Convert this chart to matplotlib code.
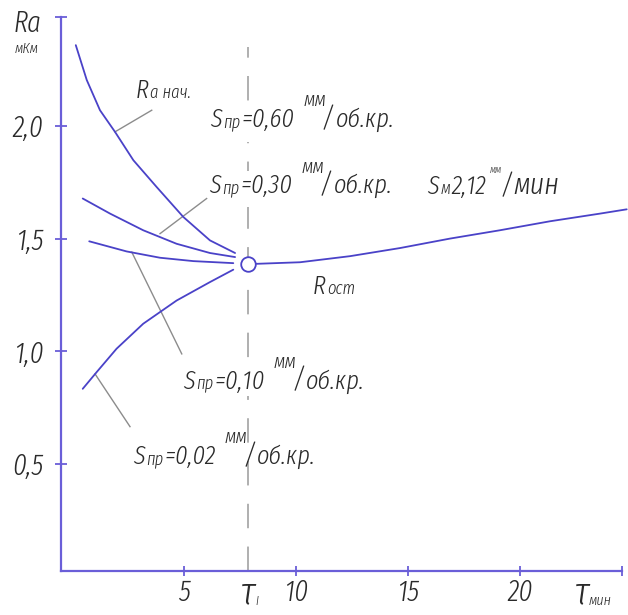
import matplotlib
matplotlib.use("Agg")
import matplotlib.pyplot as plt

FONT = ['Fira Sans Extra Condensed', 'DejaVu Sans']
plt.rcParams['font.family'] = FONT
plt.rcParams['font.style'] = 'italic'
plt.rcParams['font.weight'] = 300

# ---------------- data ----------------
t_nach = [0.17, 0.66, 1.25, 1.92, 2.74, 3.78, 4.97, 6.16, 7.28]
ra_nach = [2.36, 2.205, 2.071, 1.975, 1.849, 1.73, 1.597, 1.493, 1.437]

t_030 = [0.48, 1.70, 3.18, 4.67, 6.16, 7.28]
ra_030 = [1.679, 1.612, 1.538, 1.478, 1.437, 1.419]

t_010 = [0.77, 2.44, 3.93, 5.42, 7.2]
ra_010 = [1.489, 1.444, 1.416, 1.401, 1.392]

t_002 = [0.48, 1.10, 1.99, 3.18, 4.67, 6.16, 7.2]
ra_002 = [0.834, 0.908, 1.012, 1.123, 1.226, 1.308, 1.363]

t_ost = [8.24, 10.18, 12.41, 14.64, 16.87, 19.1, 21.34, 23.57, 24.76]
ra_ost = [1.389, 1.396, 1.423, 1.459, 1.501, 1.538, 1.578, 1.612, 1.631]

tau1 = 7.87
ra_tau1 = 1.39

x_ticks = [5, 10, 15, 20]
x_ticklabels = ['5', '10', '15', '20']
y_ticks = [0.5, 1.0, 1.5, 2.0]
y_ticklabels = ['0,5', '1,0', '1,5', '2,0']

# leader lines (start on curve, end near label)
lead_nach = ([1.92, 3.56], [1.975, 2.071])
lead_030 = ([3.93, 6.01], [1.523, 1.679])
lead_010 = ([2.67, 4.90], [1.441, 0.989])
lead_002 = ([1.03, 2.59], [0.900, 0.666])

# ---------------- styles ----------------
CURVE = '#4a42c8'
AXIS = '#6a5ed8'
GRAY = '#8c8c8c'
TXT = '#2a2a2a'

fig = plt.figure(figsize=(6.28, 6.15), dpi=100)
ax = fig.add_axes([61 / 628, 44 / 615, (622 - 61) / 628, (571 - 17) / 615])
XMIN, XMAX = -0.49, 24.55
YMIN, YMAX = 0.025, 2.485
ax.set_xlim(XMIN, XMAX)
ax.set_ylim(YMIN, YMAX)

for s in ['top', 'right']:
    ax.spines[s].set_visible(False)
for s in ['left', 'bottom']:
    ax.spines[s].set_color(AXIS)
    ax.spines[s].set_linewidth(1.6)

ax.set_xticks(x_ticks + [XMAX])
ax.set_xticklabels(x_ticklabels + [''])
ax.set_yticks(y_ticks + [YMAX])
ax.set_yticklabels(y_ticklabels + [''])
ax.tick_params(axis='x', direction='inout', length=7, width=1.3, color=AXIS,
               labelsize=21, labelcolor=TXT, pad=2)
ax.tick_params(axis='y', direction='inout', length=9, width=1.3, color=AXIS,
               labelsize=21, labelcolor=TXT, pad=8)
for lab in ax.get_xticklabels() + ax.get_yticklabels():
    lab.set_fontstyle('italic')
    lab.set_fontweight(300)

# dashed tau1 line
ax.plot([tau1, tau1], [YMIN, 2.35], color='#9a9a9a', lw=1.1,
        dashes=(16, 12), zorder=1)

# curves
for tx, ry in [(t_nach, ra_nach), (t_030, ra_030), (t_010, ra_010),
               (t_002, ra_002), (t_ost, ra_ost)]:
    ax.plot(tx, ry, color=CURVE, lw=1.3, zorder=3, clip_on=False,
            solid_capstyle='round')
ax.plot([tau1], [ra_tau1], marker='o', ms=10.5, mfc='white', mec=CURVE,
        mew=1.3, zorder=5, ls='none')

# leader lines
for lx, ly in [lead_nach, lead_030, lead_010, lead_002]:
    ax.plot(lx, ly, color=GRAY, lw=1.0, zorder=2)


def put(x, y, parts):
    """parts: list of (text, size, dx_points, dy_points)"""
    prev = None
    for txt, size, dx, dy in parts:
        if prev is None:
            prev = ax.annotate(txt, xy=(x, y), xycoords='data',
                               xytext=(dx, dy), textcoords='offset points',
                               fontsize=size, color=TXT, style='italic',
                               weight=300, ha='left', va='baseline',
                               zorder=4, annotation_clip=False)
        else:
            prev = ax.annotate(txt, xy=(1, y), xycoords=(prev, 'data'),
                               xytext=(dx, dy), textcoords='offset points',
                               fontsize=size, color=TXT, style='italic',
                               weight=300, ha='left', va='baseline',
                               zorder=4, annotation_clip=False)
    return prev


def white_gap(x0, x1, y0, y1):
    ax.fill_between([x0, x1], [y0, y0], [y1, y1], color='white', zorder=1.5,
                    lw=0)


def feed(x, y, val):
    return put(x, y, [('S', 19, 0, 0), ('пр', 13, 1, 0), ('=' + val, 19, 1, 0),
                      ('мм', 15, 6, 15), ('/', 20, -3, 0),
                      ('об.кр.', 19, 1, 0)])


# gaps in dashed line behind labels
white_gap(tau1 - 0.3, tau1 + 0.3, 1.93, 2.10)
white_gap(tau1 - 0.3, tau1 + 0.3, 1.64, 1.80)
white_gap(tau1 - 0.3, tau1 + 0.3, 0.80, 0.92)

put(2.84, 2.124, [('R', 19, 0, 0), ('a нач.', 13, 1, 0)])
feed(6.16, 1.996, '0,60')
feed(6.12, 1.702, '0,30')
put(15.85, 1.698, [('S', 19, 0, 0), ('м', 13, 1, 0), ('2,12', 19, 1, 0),
                   ('мм', 8, 2, 15), ('/', 20, -1, 0), ('мин', 22, 1, 0)])
put(10.76, 1.257, [('R', 19, 0, 0), ('ост', 13, 1, 0)])
feed(4.96, 0.835, '0,10')
feed(2.72, 0.50, '0,02')

# axis titles
fig.text(14 / 628, 1 - 32 / 615, 'Ra', fontsize=21, color=TXT,
         style='italic', weight=300, ha='left', va='baseline')
fig.text(15 / 628, 1 - 53 / 615, 'мКм', fontsize=11, color=TXT,
         style='italic', weight=300, ha='left', va='baseline')

# tau labels under x axis
lab_tau = ax.annotate('τ', xy=(tau1, YMIN), xycoords='data',
                      xytext=(0, -24), textcoords='offset points',
                      fontsize=28, color=TXT, style='italic', weight=300,
                      ha='center', va='baseline', annotation_clip=False)
ax.annotate('I', xy=(1, 0), xycoords=lab_tau, xytext=(0, 3),
            textcoords='offset points', fontsize=9, color=TXT,
            style='italic', weight=300, ha='left', va='bottom')
lab_tm = ax.annotate('τ', xy=(XMAX, YMIN), xycoords='data',
                     xytext=(-34, -24), textcoords='offset points',
                     fontsize=28, color=TXT, style='italic', weight=300,
                     ha='left', va='baseline', annotation_clip=False)
ax.annotate('мин', xy=(1, 0), xycoords=lab_tm, xytext=(0, 3),
            textcoords='offset points', fontsize=11, color=TXT,
            style='italic', weight=300, ha='left', va='bottom')

fig.savefig('out.png', dpi=100, facecolor='white')
